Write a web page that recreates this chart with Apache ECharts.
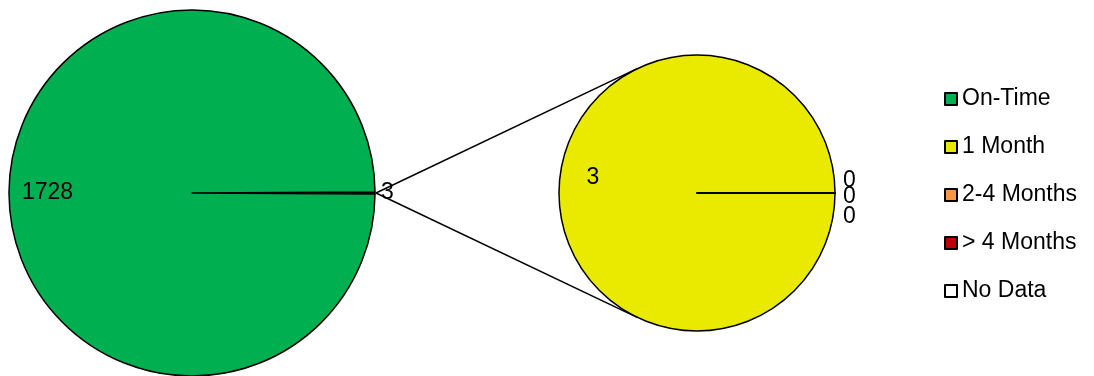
<!DOCTYPE html>
<html>
<head>
<meta charset="utf-8">
<script src="https://cdn.jsdelivr.net/npm/echarts@6/dist/echarts.min.js"></script>
<style>
  html, body { margin: 0; padding: 0; background: #fff; }
  #chart { width: 1094px; height: 376px; }
</style>
</head>
<body>
<div id="chart"></div>
<script>
// main pie: on-time vs. the "other" slice that is split out
const mainNames = ['Other', 'On-Time']
const mainValues = [3, 1728]
// secondary pie: breakdown of the late ones
const subNames = ['1 Month', '2-4 Months', '> 4 Months', 'No Data']
const subValues = [3, 0, 0, 0]
const legendNames = ['On-Time', '1 Month', '2-4 Months', '> 4 Months', 'No Data']

const colors = {
  'Other': '#00B050',
  'On-Time': '#00B050',
  '1 Month': '#EAEA00',
  '2-4 Months': '#F79646',
  '> 4 Months': '#C00000',
  'No Data': '#FFFFFF'
}

const font = 'Liberation Sans'
const fontSize = 23

// pie geometry
const c1 = [192, 193], r1 = 183
const c2 = [697, 193], r2 = 138

const chart = echarts.init(document.getElementById('chart'))

// angle of the split-out slice, so it sits centred on 3 o'clock
const otherAngle = mainValues[0] / (mainValues[0] + mainValues[1]) * 360

const mainData = mainNames.map((n, i) => {
  const d = { name: n, value: mainValues[i], itemStyle: { color: colors[n] } }
  if (n === 'On-Time') {
    d.label = { position: 'inside', padding: [0, 100, 0, 0] }
  } else {
    d.label = { position: 'outside' }
  }
  return d
})

// excel stacks the zero labels loosely on top of each other; mimic the offsets
const subLabel = [
  { position: 'inside', padding: [0, 64, 0, 0], formatter: '{c}\n', lineHeight: 30 },
  { formatter: '{c}\n', lineHeight: 24 },
  { formatter: '\n{c}', lineHeight: 8 },
  { formatter: '\n{c}', lineHeight: 48 }
]
const subData = subNames.map((n, i) => ({
  name: n,
  value: subValues[i],
  itemStyle: { color: colors[n] },
  label: subLabel[i]
}))

// connector lines from the split slice to the tangents of the second pie
const start = [c1[0] + r1 + 1, c1[1]]
const dx = c2[0] - start[0]
const phi = Math.acos(r2 / dx)
const tTop = [c2[0] - r2 * Math.cos(phi), c2[1] - r2 * Math.sin(phi)]
const tBot = [c2[0] - r2 * Math.cos(phi), c2[1] + r2 * Math.sin(phi)]

const option = {
  animation: false,
  textStyle: { fontFamily: font },
  legend: {
    data: legendNames,
    orient: 'vertical',
    left: 939,
    top: 82,
    icon: 'rect',
    itemWidth: 12,
    itemHeight: 12,
    itemGap: 24,
    selectedMode: false,
    textStyle: { fontFamily: font, fontSize: fontSize, color: '#000', lineHeight: 24 }
  },
  graphic: [
    { type: 'line', z: 10, shape: { x1: start[0], y1: start[1], x2: tTop[0], y2: tTop[1] }, style: { stroke: '#000', lineWidth: 1.5 } },
    { type: 'line', z: 10, shape: { x1: start[0], y1: start[1], x2: tBot[0], y2: tBot[1] }, style: { stroke: '#000', lineWidth: 1.5 } }
  ],
  series: [
    {
      type: 'pie',
      center: c1,
      radius: r1,
      startAngle: otherAngle / 2,
      clockwise: true,
      avoidLabelOverlap: false,
      itemStyle: { borderColor: '#000', borderWidth: 1.5 },
      label: { color: '#000', fontFamily: font, fontSize: fontSize, formatter: '{c}' },
      labelLine: { show: false, length: 1, length2: 0 },
      emphasis: { disabled: true },
      data: mainData
    },
    {
      type: 'pie',
      center: c2,
      radius: r2,
      startAngle: 0,
      clockwise: true,
      avoidLabelOverlap: false,
      minShowLabelAngle: 0,
      labelLayout: { hideOverlap: false },
      itemStyle: { borderColor: '#000', borderWidth: 1.5 },
      label: { position: 'outside', color: '#000', fontFamily: font, fontSize: fontSize },
      labelLine: { show: false, length: 3, length2: 0 },
      emphasis: { disabled: true },
      data: subData
    }
  ]
}

chart.setOption(option)
window.addEventListener('resize', () => chart.resize())
</script>
</body>
</html>
